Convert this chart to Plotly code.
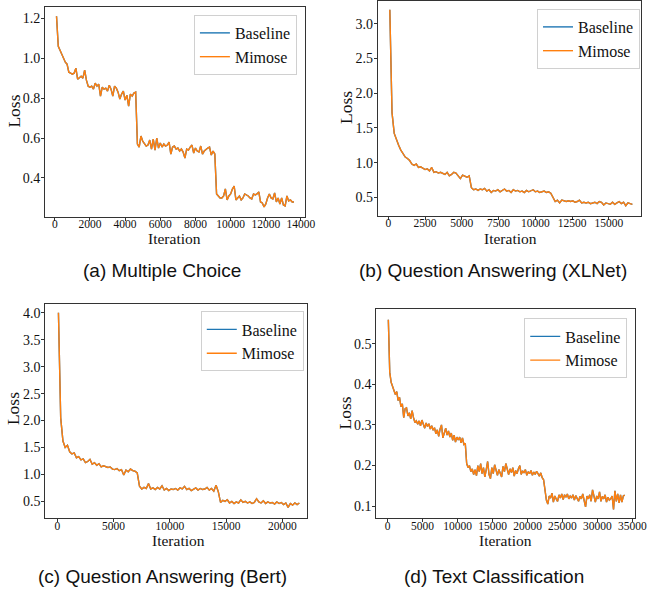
import plotly.graph_objects as go

W, H = 652, 593

# ---------------- data ----------------
# (a) Multiple Choice: loss every 100 iterations starting at 100
a_step = 100
a_baseline = [1.21, 1.06, 1.04, 1.02, 1.00, 0.98, 0.97, 0.93, 0.925, 0.92,
              0.925, 0.95, 0.895, 0.905, 0.91, 0.90, 0.94, 0.89, 0.86, 0.855,
              0.86, 0.845, 0.875, 0.86, 0.87, 0.81, 0.855, 0.845, 0.85, 0.835,
              0.865, 0.845, 0.81, 0.86, 0.85, 0.83, 0.795, 0.82, 0.835, 0.79,
              0.815, 0.76, 0.82, 0.81, 0.825, 0.83, 0.57, 0.555, 0.61, 0.585,
              0.575, 0.56, 0.565, 0.59, 0.545, 0.595, 0.54, 0.60, 0.55, 0.575,
              0.555, 0.57, 0.56, 0.565, 0.58, 0.52, 0.555, 0.56, 0.545, 0.55,
              0.535, 0.545, 0.53, 0.50, 0.545, 0.54, 0.555, 0.565, 0.525, 0.55,
              0.535, 0.53, 0.56, 0.52, 0.535, 0.545, 0.55, 0.555, 0.515, 0.535,
              0.52, 0.32, 0.31, 0.30, 0.30, 0.31, 0.345, 0.29, 0.31, 0.32,
              0.345, 0.36, 0.29, 0.30, 0.31, 0.29, 0.30, 0.32, 0.315, 0.31,
              0.30, 0.295, 0.32, 0.315, 0.32, 0.33, 0.28, 0.275, 0.255, 0.27,
              0.30, 0.32, 0.30, 0.295, 0.325, 0.28, 0.30, 0.27, 0.30, 0.265,
              0.26, 0.31, 0.285, 0.29, 0.28, 0.28]
a_mimose = [1.21, 1.06, 1.04, 1.02, 1.00, 0.98, 0.97, 0.93, 0.925, 0.92,
            0.925, 0.95, 0.895, 0.905, 0.91, 0.90, 0.94, 0.89, 0.86, 0.855,
            0.86, 0.845, 0.875, 0.86, 0.87, 0.81, 0.855, 0.845, 0.85, 0.835,
            0.865, 0.845, 0.81, 0.86, 0.85, 0.83, 0.795, 0.82, 0.835, 0.79,
            0.815, 0.76, 0.82, 0.81, 0.825, 0.83, 0.57, 0.555, 0.61, 0.585,
            0.575, 0.56, 0.565, 0.59, 0.545, 0.595, 0.54, 0.60, 0.55, 0.575,
            0.555, 0.57, 0.56, 0.565, 0.58, 0.52, 0.555, 0.56, 0.545, 0.55,
            0.535, 0.545, 0.53, 0.50, 0.545, 0.54, 0.555, 0.565, 0.525, 0.55,
            0.535, 0.53, 0.56, 0.52, 0.535, 0.545, 0.55, 0.555, 0.515, 0.535,
            0.52, 0.32, 0.31, 0.30, 0.30, 0.31, 0.345, 0.29, 0.31, 0.32,
            0.345, 0.36, 0.29, 0.30, 0.31, 0.29, 0.30, 0.32, 0.315, 0.31,
            0.30, 0.295, 0.32, 0.315, 0.32, 0.33, 0.28, 0.275, 0.255, 0.27,
            0.30, 0.32, 0.30, 0.295, 0.325, 0.28, 0.30, 0.27, 0.30, 0.265,
            0.26, 0.31, 0.285, 0.29, 0.28, 0.28]

# (b) Question Answering (XLNet): every 150 iterations starting at 100
b_step = 150
b_baseline = [3.20, 1.72, 1.42, 1.32, 1.25, 1.18, 1.12, 1.08, 1.06, 1.03,
              0.98, 0.96, 0.98, 0.93, 0.94, 0.92, 0.90, 0.91, 0.88, 0.93,
              0.86, 0.87, 0.85, 0.86, 0.84, 0.83, 0.86, 0.81, 0.83, 0.86,
              0.85, 0.80, 0.77, 0.82, 0.80, 0.79, 0.81, 0.64, 0.61, 0.62,
              0.60, 0.62, 0.61, 0.63, 0.59, 0.61, 0.57, 0.60, 0.59, 0.61,
              0.58, 0.60, 0.62, 0.59, 0.60, 0.57, 0.61, 0.59, 0.60, 0.58,
              0.59, 0.57, 0.60, 0.58, 0.59, 0.61, 0.58, 0.59, 0.57, 0.58,
              0.59, 0.57, 0.58, 0.56, 0.50, 0.44, 0.46, 0.42, 0.46, 0.45,
              0.44, 0.45, 0.44, 0.45, 0.43, 0.44, 0.46, 0.42, 0.43, 0.42,
              0.43, 0.41, 0.42, 0.43, 0.41, 0.44, 0.43, 0.39, 0.42, 0.41,
              0.40, 0.43, 0.40, 0.42, 0.44, 0.41, 0.43, 0.38, 0.42, 0.41,
              0.40]
b_mimose = [3.20, 1.72, 1.42, 1.32, 1.25, 1.18, 1.12, 1.08, 1.06, 1.03,
            0.98, 0.96, 0.98, 0.93, 0.94, 0.92, 0.90, 0.91, 0.88, 0.93,
            0.86, 0.87, 0.85, 0.86, 0.84, 0.83, 0.86, 0.81, 0.83, 0.86,
            0.85, 0.80, 0.77, 0.82, 0.80, 0.79, 0.81, 0.64, 0.61, 0.62,
            0.60, 0.62, 0.61, 0.63, 0.59, 0.61, 0.57, 0.60, 0.59, 0.61,
            0.58, 0.60, 0.62, 0.59, 0.60, 0.57, 0.61, 0.59, 0.60, 0.58,
            0.59, 0.57, 0.60, 0.58, 0.59, 0.61, 0.58, 0.59, 0.57, 0.58,
            0.59, 0.57, 0.58, 0.56, 0.50, 0.44, 0.46, 0.42, 0.46, 0.45,
            0.44, 0.45, 0.44, 0.45, 0.43, 0.44, 0.46, 0.42, 0.43, 0.42,
            0.43, 0.41, 0.42, 0.43, 0.41, 0.44, 0.43, 0.39, 0.42, 0.41,
            0.40, 0.43, 0.40, 0.42, 0.44, 0.41, 0.43, 0.38, 0.42, 0.41,
            0.40]

# (c) Question Answering (Bert): every 200 iterations starting at 100
c_step = 200
c_baseline = [4.00, 2.05, 1.62, 1.50, 1.54, 1.42, 1.38, 1.40, 1.31, 1.33,
              1.27, 1.29, 1.22, 1.24, 1.28, 1.19, 1.22, 1.17, 1.20, 1.14,
              1.16, 1.15, 1.13, 1.14, 1.10, 1.09, 1.11, 1.07, 1.09, 0.99,
              1.08, 1.05, 1.10, 1.07, 1.06, 1.03, 0.78, 0.73, 0.76, 0.74,
              0.83, 0.73, 0.75, 0.72, 0.76, 0.73, 0.79, 0.71, 0.74, 0.70,
              0.73, 0.72, 0.74, 0.71, 0.75, 0.73, 0.78, 0.72, 0.74, 0.70,
              0.73, 0.75, 0.71, 0.74, 0.72, 0.73, 0.76, 0.71, 0.74, 0.69,
              0.80, 0.68, 0.48, 0.52, 0.50, 0.53, 0.47, 0.50, 0.46, 0.49,
              0.47, 0.53, 0.48, 0.50, 0.47, 0.49, 0.46, 0.48, 0.55, 0.49,
              0.47, 0.51, 0.46, 0.49, 0.47, 0.48, 0.45, 0.49, 0.46, 0.48,
              0.44, 0.47, 0.39, 0.46, 0.43, 0.47, 0.44, 0.47]
c_mimose = [4.00, 2.05, 1.62, 1.50, 1.54, 1.42, 1.38, 1.40, 1.31, 1.33,
            1.27, 1.29, 1.22, 1.24, 1.28, 1.19, 1.22, 1.17, 1.20, 1.14,
            1.16, 1.15, 1.13, 1.14, 1.10, 1.09, 1.11, 1.07, 1.09, 0.99,
            1.08, 1.05, 1.10, 1.07, 1.06, 1.03, 0.78, 0.73, 0.76, 0.74,
            0.83, 0.73, 0.75, 0.72, 0.76, 0.73, 0.79, 0.71, 0.74, 0.70,
            0.73, 0.72, 0.74, 0.71, 0.75, 0.73, 0.78, 0.72, 0.74, 0.70,
            0.73, 0.75, 0.71, 0.74, 0.72, 0.73, 0.76, 0.71, 0.74, 0.69,
            0.80, 0.68, 0.48, 0.52, 0.50, 0.53, 0.47, 0.50, 0.46, 0.49,
            0.47, 0.53, 0.48, 0.50, 0.47, 0.49, 0.46, 0.48, 0.55, 0.49,
            0.47, 0.51, 0.46, 0.49, 0.47, 0.48, 0.45, 0.49, 0.46, 0.48,
            0.44, 0.47, 0.39, 0.46, 0.43, 0.47, 0.44, 0.47]

# (d) Text Classification: every 200 iterations starting at 100
d_step = 200
d_baseline = [0.559, 0.43, 0.405, 0.395, 0.385, 0.375, 0.382, 0.36, 0.368, 0.345,
              0.352, 0.318, 0.34, 0.342, 0.322, 0.33, 0.315, 0.335, 0.318, 0.306,
              0.31, 0.302, 0.31, 0.298, 0.312, 0.302, 0.292, 0.305, 0.296, 0.303,
              0.29, 0.298, 0.287, 0.293, 0.278, 0.288, 0.272, 0.29, 0.30, 0.268,
              0.282, 0.292, 0.275, 0.285, 0.27, 0.28, 0.262, 0.275, 0.258, 0.27,
              0.263, 0.27, 0.256, 0.268, 0.252, 0.255, 0.205, 0.195, 0.2, 0.185,
              0.192, 0.178, 0.19, 0.175, 0.2, 0.185, 0.205, 0.18, 0.195, 0.172,
              0.19, 0.21, 0.178, 0.168, 0.195, 0.18, 0.202, 0.185, 0.176, 0.19,
              0.182, 0.172, 0.198, 0.185, 0.205, 0.19, 0.178, 0.192, 0.183, 0.195,
              0.174, 0.188, 0.18, 0.192, 0.2, 0.178, 0.187, 0.182, 0.19, 0.176,
              0.185, 0.18, 0.188, 0.176, 0.184, 0.178, 0.186, 0.18, 0.174, 0.182,
              0.17, 0.165, 0.14, 0.115, 0.105, 0.125, 0.12, 0.132, 0.11, 0.125,
              0.118, 0.112, 0.128, 0.12, 0.13, 0.116, 0.128, 0.122, 0.13, 0.118,
              0.125, 0.12, 0.128, 0.115, 0.126, 0.12, 0.112, 0.124, 0.118, 0.13,
              0.115, 0.098, 0.125, 0.118, 0.128, 0.112, 0.14, 0.12, 0.11, 0.125,
              0.118, 0.135, 0.112, 0.124, 0.118, 0.128, 0.11, 0.122, 0.115, 0.118,
              0.125, 0.092, 0.138, 0.112, 0.13, 0.108, 0.128, 0.11, 0.125, 0.127]
d_mimose = [0.559, 0.43, 0.405, 0.395, 0.385, 0.375, 0.382, 0.36, 0.368, 0.345,
            0.352, 0.318, 0.34, 0.342, 0.322, 0.33, 0.315, 0.335, 0.318, 0.306,
            0.31, 0.302, 0.31, 0.298, 0.312, 0.302, 0.292, 0.305, 0.296, 0.303,
            0.29, 0.298, 0.287, 0.293, 0.278, 0.288, 0.272, 0.29, 0.30, 0.268,
            0.282, 0.292, 0.275, 0.285, 0.27, 0.28, 0.262, 0.275, 0.258, 0.27,
            0.263, 0.27, 0.256, 0.268, 0.252, 0.255, 0.205, 0.195, 0.2, 0.185,
            0.192, 0.178, 0.19, 0.175, 0.2, 0.185, 0.205, 0.18, 0.195, 0.172,
            0.19, 0.21, 0.178, 0.168, 0.195, 0.18, 0.202, 0.185, 0.176, 0.19,
            0.182, 0.172, 0.198, 0.185, 0.205, 0.19, 0.178, 0.192, 0.183, 0.195,
            0.174, 0.188, 0.18, 0.192, 0.2, 0.178, 0.187, 0.182, 0.19, 0.176,
            0.185, 0.18, 0.188, 0.176, 0.184, 0.178, 0.186, 0.18, 0.174, 0.182,
            0.17, 0.165, 0.14, 0.115, 0.105, 0.125, 0.12, 0.132, 0.11, 0.125,
            0.118, 0.112, 0.128, 0.12, 0.13, 0.116, 0.128, 0.122, 0.13, 0.118,
            0.125, 0.12, 0.128, 0.115, 0.126, 0.12, 0.112, 0.124, 0.118, 0.13,
            0.115, 0.098, 0.125, 0.118, 0.128, 0.112, 0.14, 0.12, 0.11, 0.125,
            0.118, 0.135, 0.112, 0.124, 0.118, 0.128, 0.11, 0.122, 0.115, 0.118,
            0.125, 0.092, 0.138, 0.112, 0.13, 0.108, 0.128, 0.11, 0.125, 0.127]

captions = ["(a) Multiple Choice", "(b) Question Answering (XLNet)",
            "(c) Question Answering (Bert)", "(d) Text Classification"]
series_names = ["Baseline", "Mimose"]
colors = ["#1f77b4", "#ff7f0e"]

a_xticks = [0, 2000, 4000, 6000, 8000, 10000, 12000, 14000]
a_yticks = [0.4, 0.6, 0.8, 1.0, 1.2]
b_xticks = [0, 2500, 5000, 7500, 10000, 12500, 15000]
b_yticks = [0.5, 1.0, 1.5, 2.0, 2.5, 3.0]
c_xticks = [0, 5000, 10000, 15000, 20000]
c_yticks = [0.5, 1.0, 1.5, 2.0, 2.5, 3.0, 3.5, 4.0]
d_xticks = [0, 5000, 10000, 15000, 20000, 25000, 30000, 35000]
d_yticks = [0.1, 0.2, 0.3, 0.4, 0.5]

# ---------------- layout geometry (pixels) ----------------
SERIF = "Liberation Serif, Times New Roman, serif"
SANS = "Liberation Sans, Arial, Helvetica, sans-serif"

panels = [
    dict(box=(45.7, 310.0, 6.0, 216.0), xr=[-559, 14215], yr=[0.2065, 1.2565],
         xt=a_xticks, yt=a_yticks, series=(a_baseline, a_mimose), step=a_step,
         legend=(302, 14), cap=(165, 270), loss=(14, 110), it=(178, 238)),
    dict(box=(384.3, 651.7, 0.5, 215.0), xr=[-716, 17167], yr=[0.237, 3.319],
         xt=b_xticks, yt=b_yticks, series=(b_baseline, b_mimose), step=b_step,
         legend=(651, 8), cap=(501, 270), loss=(352, 107), it=(519, 238)),
    dict(box=(46.0, 312.3, 303.3, 517.7), xr=[-1074, 22183], yr=[0.195, 4.167],
         xt=c_xticks, yt=c_yticks, series=(c_baseline, c_mimose), step=c_step,
         legend=(309, 311), cap=(165, 576), loss=(14, 408), it=(182, 540)),
    dict(box=(382.7, 646.0, 309.0, 518.3), xr=[-1631, 35386], yr=[0.0698, 0.5843],
         xt=d_xticks, yt=d_yticks, series=(d_baseline, d_mimose), step=d_step,
         legend=(638, 318), cap=(502, 576), loss=(351, 413), it=(514, 540)),
]

fig = go.Figure()
layout = dict(width=W, height=H, margin=dict(l=0, r=0, t=0, b=0),
              paper_bgcolor="white", plot_bgcolor="white",
              font=dict(family=SERIF, color="#111"), annotations=[])

for i, p in enumerate(panels):
    n = "" if i == 0 else str(i + 1)
    L, R, T, B = p["box"]
    xa = dict(domain=[L / W, R / W], range=p["xr"], anchor="y" + n,
              tickvals=p["xt"], ticktext=[str(v) for v in p["xt"]],
              showline=True, mirror=True, linecolor="#333", linewidth=1,
              ticks="outside", ticklen=3, tickwidth=1, tickcolor="#333",
              ticklabelstandoff=-6,
              showgrid=False, zeroline=False,
              tickfont=dict(family=SERIF, size=11.5, color="#111"))
    ya = dict(domain=[1 - B / H, 1 - T / H], range=p["yr"], anchor="x" + n,
              tickvals=p["yt"], ticktext=[f"{v:.1f}" for v in p["yt"]],
              showline=True, mirror=True, linecolor="#333", linewidth=1,
              ticks="outside", ticklen=3, tickwidth=1, tickcolor="#333",
              ticklabelstandoff=-2,
              showgrid=False, zeroline=False,
              tickfont=dict(family=SERIF, size=14, color="#111"))
    layout["xaxis" + n] = xa
    layout["yaxis" + n] = ya

    lg = "legend" + n
    for name, vals, col in zip(series_names, p["series"], colors):
        xs = [100 + p["step"] * k for k in range(len(vals))]
        fig.add_trace(go.Scatter(x=xs, y=vals, mode="lines", name=name,
                                 line=dict(color=col, width=1.4),
                                 xaxis="x" + n, yaxis="y" + n, legend=lg))
    lx, ly = p["legend"]
    layout[lg] = dict(x=lx / W, y=1 - ly / H, xanchor="right", yanchor="top",
                      bgcolor="rgba(255,255,255,0.85)", bordercolor="#d0d0d0",
                      borderwidth=1, font=dict(family=SERIF, size=16, color="#111"),
                      tracegroupgap=2)

    cx, cy = p["cap"]
    layout["annotations"].append(dict(
        x=cx / W, y=1 - cy / H, xref="paper", yref="paper", text=captions[i],
        showarrow=False, xanchor="center", yanchor="middle",
        font=dict(family=SANS, size=19, color="#111")))
    lx2, ly2 = p["loss"]
    layout["annotations"].append(dict(
        x=lx2 / W, y=1 - ly2 / H, xref="paper", yref="paper", text="Loss",
        textangle=-90, showarrow=False, xanchor="center", yanchor="middle",
        font=dict(family=SERIF, size=17.5, color="#111")))
    ix, iy = p["it"]
    layout["annotations"].append(dict(
        x=ix / W, y=1 - iy / H, xref="paper", yref="paper", text="Iteration",
        showarrow=False, xanchor="center", yanchor="middle",
        font=dict(family=SERIF, size=15.5, color="#111")))

fig.update_layout(**layout)
fig.write_html("out.html", config={"displayModeBar": False},
               post_script="document.body.style.margin='0px';"
                           "document.body.style.overflow='hidden';")
